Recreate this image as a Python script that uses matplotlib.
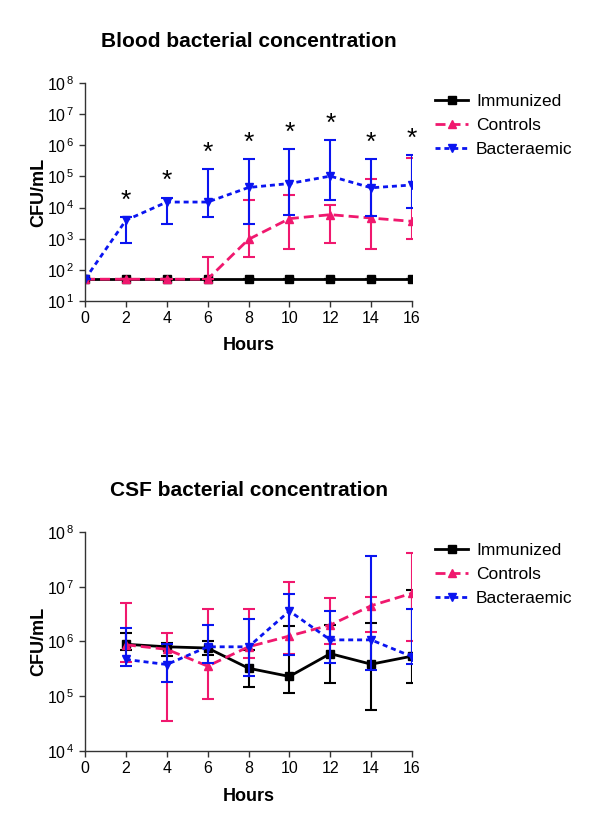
import matplotlib
matplotlib.use("Agg")
import matplotlib.pyplot as plt
import numpy as np

plt.rcParams["font.family"] = ["Liberation Sans", "DejaVu Sans"]
plt.rcParams["mathtext.default"] = "regular"

hours = [0, 2, 4, 6, 8, 10, 12, 14, 16]
csf_hours = [2, 4, 6, 8, 10, 12, 14, 16]
labels = ["Immunized", "Controls", "Bacteraemic"]

# blood, CFU/mL (mean, lower, upper)
blood_imm = [50, 50, 50, 50, 50, 50, 50, 50, 50]
blood_ctl = [50, 50, 50, 50, 950, 4400, 5900, 4600, 3600]
blood_ctl_lo = [50, 50, 50, 50, 260, 470, 730, 470, 950]
blood_ctl_hi = [50, 50, 50, 260, 17000, 25000, 12500, 80000, 390000]
blood_bac = [50, 3900, 15000, 15000, 44000, 59000, 102000, 43000, 53000]
blood_bac_lo = [50, 730, 2900, 4900, 2900, 5900, 17000, 5500, 9800]
blood_bac_hi = [50, 5000, 21000, 175000, 350000, 780000, 1500000, 350000, 480000]
star_hours = [2, 4, 6, 8, 10, 12, 14, 16]

# CSF, CFU/mL
csf_imm = [890000, 800000, 760000, 325000, 230000, 600000, 385000, 540000]
csf_imm_lo = [690000, 540000, 560000, 145000, 115000, 175000, 56000, 175000]
csf_imm_hi = [1400000, 950000, 1000000, 700000, 1900000, 2000000, 2200000, 8800000]
csf_ctl = [870000, 720000, 355000, 800000, 1260000, 2000000, 4500000, 7600000]
csf_ctl_lo = [430000, 35000, 91000, 500000, 590000, 900000, 1500000, 1000000]
csf_ctl_hi = [5000000, 1400000, 4000000, 4000000, 12000000, 6300000, 6600000, 41000000]
csf_bac = [470000, 380000, 800000, 800000, 3600000, 1070000, 1070000, 530000]
csf_bac_lo = [360000, 180000, 400000, 235000, 560000, 410000, 300000, 390000]
csf_bac_hi = [1800000, 900000, 2000000, 2600000, 7400000, 3600000, 36000000, 3900000]

BLACK = "#000000"
PINK = "#F0186E"
BLUE = "#0A14F0"
styles = [
    dict(color=BLACK, ls="-", marker="s"),
    dict(color=PINK, ls=(0, (3.6, 1.8)), marker="^"),
    dict(color=BLUE, ls=(0, (1.8, 1.4)), marker="v"),
]


def pow_label(v, pos):
    return r"$10^{\,%d}$" % round(np.log10(v))


def draw_panel(ax, x, series, title, ylim, star_x=None, star_top=None):
    for (y, lo, hi), label, st in zip(series, labels, styles):
        y = np.asarray(y, float)
        yerr = [y - np.asarray(lo, float), np.asarray(hi, float) - y]
        ax.errorbar(x, y, yerr=yerr, fmt="none", ecolor=st["color"],
                    elinewidth=1.5, capsize=4.3, capthick=1.5)
        ax.plot(x, y, color=st["color"], linestyle=st["ls"], marker=st["marker"],
                markersize=6, linewidth=2, label=label)
    if star_x is not None:
        for sx, top in zip(star_x, star_top):
            ax.annotate("*", (sx, top), xytext=(0, 3), textcoords="offset points",
                        ha="center", va="bottom", fontsize=19, color="black")
    ax.set_yscale("log")
    ax.set_ylim(*ylim)
    ax.set_xlim(0, 16)
    ax.set_xticks(range(0, 17, 2))
    ax.yaxis.set_major_locator(matplotlib.ticker.LogLocator(base=10, numticks=20))
    ax.yaxis.set_minor_locator(matplotlib.ticker.NullLocator())
    ax.yaxis.set_major_formatter(matplotlib.ticker.FuncFormatter(pow_label))
    ax.spines["top"].set_visible(False)
    ax.spines["right"].set_visible(False)
    for s in ("left", "bottom"):
        ax.spines[s].set_color("#333333")
        ax.spines[s].set_linewidth(1.0)
    ax.tick_params(direction="out", length=4, width=1.0, colors="#333333",
                   labelcolor="black", labelsize=11.5)
    ax.set_xlabel("Hours", fontsize=13, fontweight="bold", labelpad=8)
    ax.set_ylabel("CFU/mL", fontsize=13, fontweight="bold")
    ax.yaxis.set_label_coords(-0.115, 0.5)
    ax.set_title(title, fontsize=15, fontweight="bold", pad=26)
    ax.legend(loc="upper left", bbox_to_anchor=(1.05, 0.98), frameon=False,
              fontsize=12.5, handlelength=1.9, handletextpad=0.45,
              labelspacing=0.5, borderaxespad=0)


fig = plt.figure(figsize=(6, 8.33), dpi=100)
ax1 = fig.add_axes([0.1417, 0.6387, 0.545, 0.2617])
ax2 = fig.add_axes([0.1417, 0.0984, 0.545, 0.263])

draw_panel(ax1, hours,
           [(blood_imm, blood_imm, blood_imm),
            (blood_ctl, blood_ctl_lo, blood_ctl_hi),
            (blood_bac, blood_bac_lo, blood_bac_hi)],
           "Blood bacterial concentration", (10, 1e8),
           star_x=star_hours, star_top=blood_bac_hi[1:])
draw_panel(ax2, csf_hours,
           [(csf_imm, csf_imm_lo, csf_imm_hi),
            (csf_ctl, csf_ctl_lo, csf_ctl_hi),
            (csf_bac, csf_bac_lo, csf_bac_hi)],
           "CSF bacterial concentration", (1e4, 1e8))

fig.savefig("out.png", dpi=100)
